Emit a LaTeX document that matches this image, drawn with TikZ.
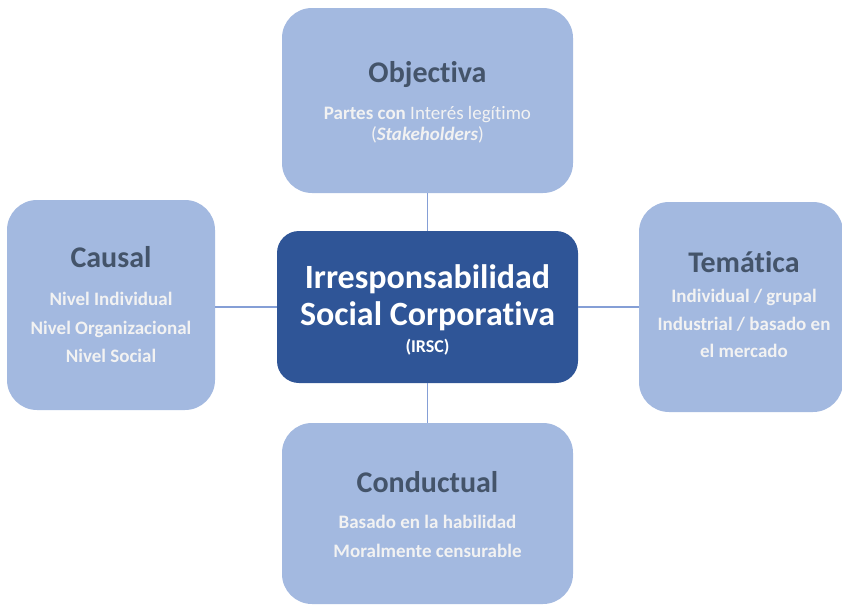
\documentclass[tikz,border=0pt]{standalone}
\usepackage{fontspec}
\setmainfont{Carlito}[Ligatures=NoCommon]
\usetikzlibrary{positioning}
\definecolor{boxblue}{HTML}{A3B9E0}
\definecolor{coreblue}{HTML}{2F5597}
\definecolor{titlegrey}{HTML}{44546A}
\definecolor{linkblue}{HTML}{859FD6}
\definecolor{itemwhite}{HTML}{F2F2F2}
\tikzstyle{facet} = [fill=boxblue,rounded corners=30pt,inner sep=0pt]
\tikzstyle{core} = [fill=coreblue,rounded corners=22pt,inner sep=0pt]
\tikzstyle{link} = [draw=linkblue,line width=1.6pt]
\tikzstyle{head} = [text=titlegrey,font=\fontsize{30}{36}\selectfont\bfseries,anchor=base]
\tikzstyle{item} = [text=itemwhite,font=\fontsize{19}{23}\selectfont\bfseries,anchor=base]
\tikzstyle{corename} = [text=white,font=\fontsize{34}{38}\selectfont\bfseries,anchor=base]

\begin{document}
\begin{tikzpicture}[x=1pt,y=-1pt]
			\useasboundingbox (0,0) rectangle (842,605);
			% boxes
			\node [facet,minimum width=291pt,minimum height=185pt] (obj) at (427.5,100.5) {};
			\node [facet,minimum width=208pt,minimum height=210pt] (causal) at (111,305) {};
			\node [facet,minimum width=204pt,minimum height=210pt] (tema) at (741,307) {};
			\node [facet,minimum width=291pt,minimum height=181pt] (cond) at (427.5,513.5) {};
			\node [core,minimum width=301pt,minimum height=152pt] (irsc) at (427.5,307) {};
			% links
			\draw [link] (obj) -- (irsc);
			\draw [link] (irsc) -- (cond);
			\draw [link] (irsc.west) -- (irsc.west -| causal.east);
			\draw [link] (irsc.east) -- (irsc.east -| tema.west);
			% centre
			\node [corename] (irsc-a) at (427.5,288) {Irresponsabilidad};
			\node [corename] (irsc-b) at (427.5,325) {Social Corporativa};
			\node [item,text=white,font=\fontsize{18}{22}\selectfont\bfseries] (irsc-c) at (427.5,352) {(IRSC)};
			% Objectiva
			\node [head] (obj-t) at (427.5,82) {Objectiva};
			\node [item,font=\fontsize{19}{23}\selectfont] (obj-a) at (427.5,119) {\textbf{Partes con} Interés legítimo};
			\node [item,font=\fontsize{19}{23}\selectfont] (obj-b) at (427.5,140) {(\textbf{\textit{Stakeholders}})};
			% Causal
			\node [head] (causal-t) at (111,267) {Causal};
			\node [item] (causal-a) at (111,305.5) {Nivel Individual};
			\node [item] (causal-b) at (111,334) {Nivel Organizacional};
			\node [item] (causal-c) at (111,362) {Nivel Social};
			% Tematica
			\node [head] (tema-t) at (744,272) {Temática};
			\node [item] (tema-a) at (744,302) {Individual / grupal};
			\node [item] (tema-b) at (744,330) {Industrial / basado en};
			\node [item] (tema-c) at (744,357) {el mercado};
			% Conductual
			\node [head] (cond-t) at (427.5,492) {Conductual};
			\node [item] (cond-a) at (427.5,528) {Basado en la habilidad};
			\node [item] (cond-b) at (427.5,557) {Moralmente censurable};
		\end{tikzpicture}
\end{document}
